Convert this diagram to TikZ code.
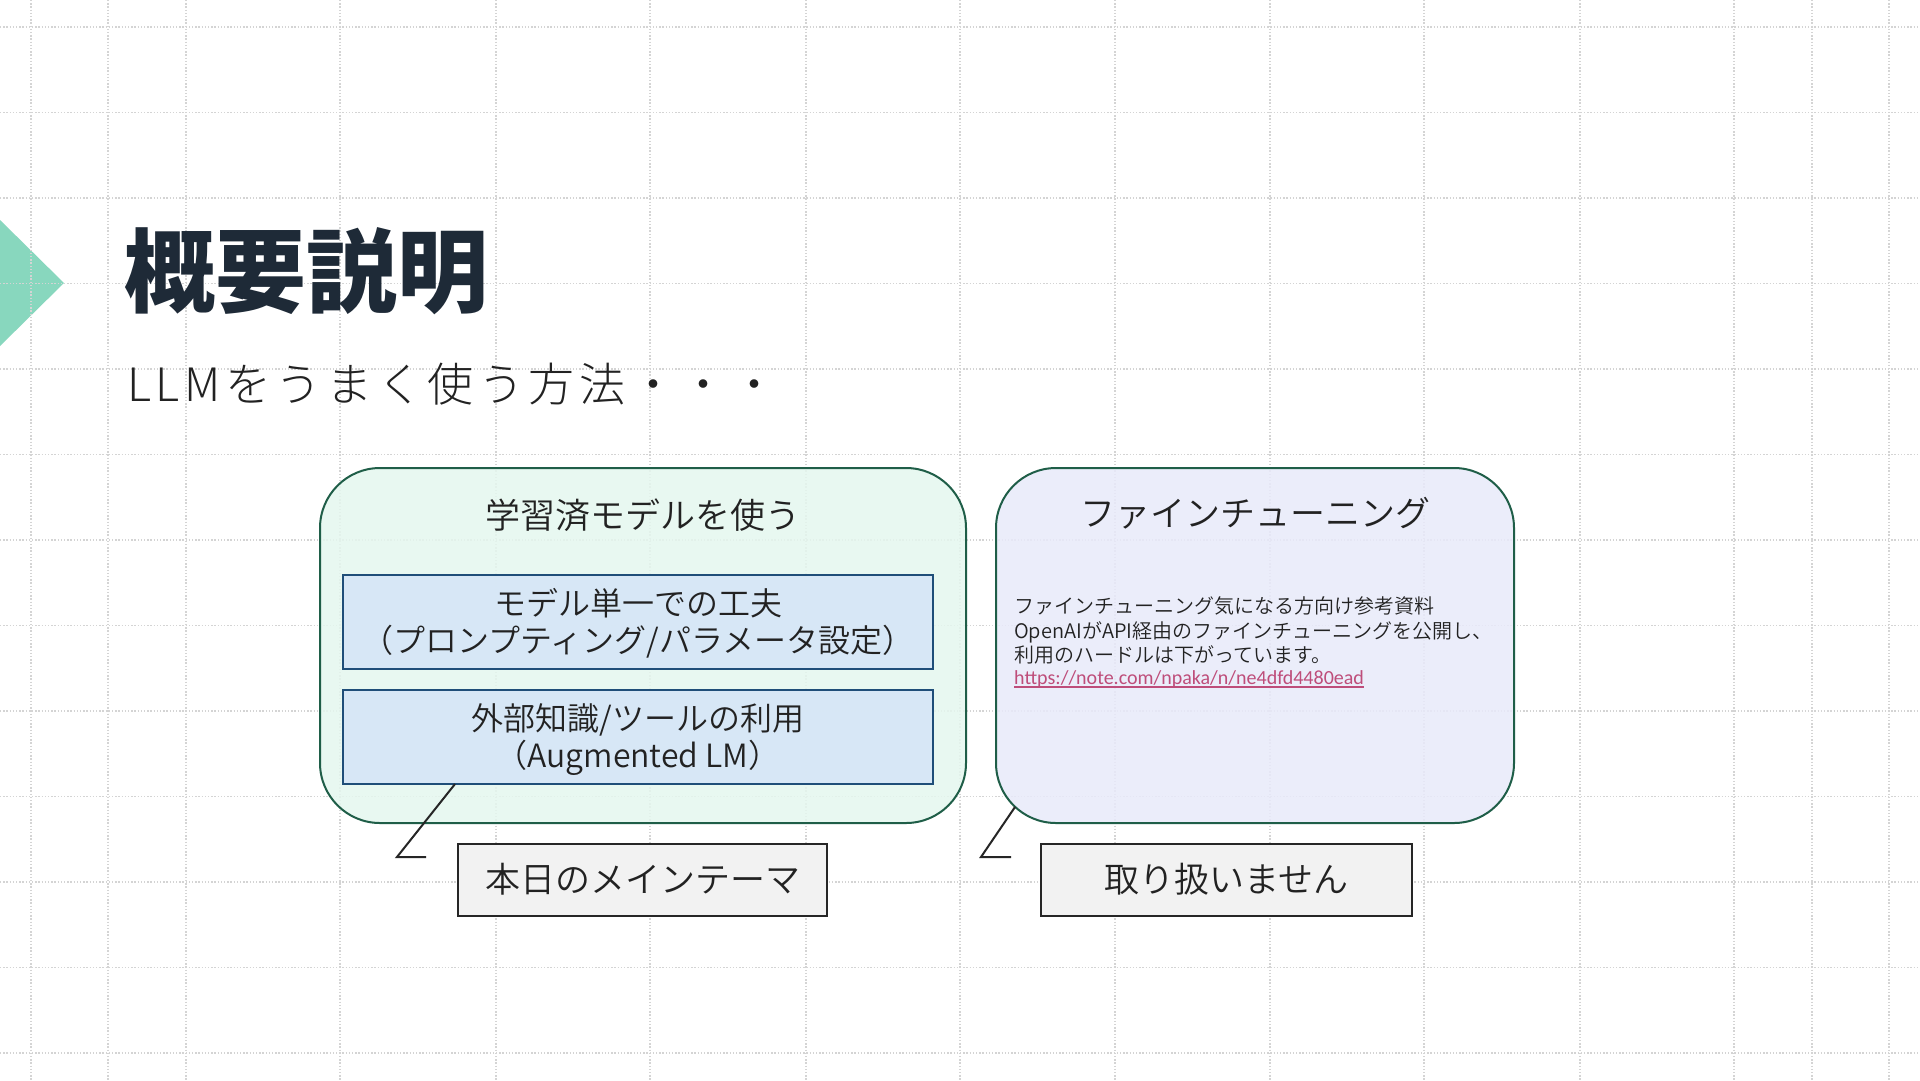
\documentclass[tikz,border=0pt]{standalone}
\usepackage{fontspec}
\setmainfont{Noto Sans CJK JP}
\newfontfamily\jpbold{Noto Sans CJK JP}
\IfFontExistsTF{Noto Sans CJK JP DemiLight}{%
  \newfontfamily\jp{Noto Sans CJK JP DemiLight}}{%
  \newfontfamily\jp{Noto Sans CJK JP}}
\IfFontExistsTF{Noto Sans CJK JP Light}{%
  \newfontfamily\jpspaced{Noto Sans CJK JP Light}[LetterSpace=10]}{%
  \newfontfamily\jpspaced{Noto Sans CJK JP}[LetterSpace=10]}
\newfontfamily\linkfont{Carlito}
\definecolor{tric}{HTML}{88D7BE}
\definecolor{titlec}{HTML}{1E2A37}
\definecolor{gridc}{HTML}{D4D4D4}
\definecolor{greenfill}{HTML}{E5F7EF}
\definecolor{lavfill}{HTML}{E8EAFA}
\definecolor{bigborder}{HTML}{1F5E48}
\definecolor{bluefill}{HTML}{D6E6F7}
\definecolor{blueborder}{HTML}{1F4E79}
\definecolor{callfill}{HTML}{F2F2F2}
\definecolor{callborder}{HTML}{262626}
\definecolor{linkc}{HTML}{BE4D7A}
\definecolor{textc}{HTML}{222222}
\tikzset{
  gridline/.style={gridc, line width=1.2pt, dash pattern=on 1.4pt off 1.8pt},
  bigbox/.style={draw=bigborder, line width=2pt, rounded corners=60pt, fill opacity=0.85, inner sep=0},
  innerbox/.style={draw=blueborder, line width=2pt, fill=bluefill, fill opacity=0.9, inner sep=0},
  callbox/.style={draw=callborder, line width=2.5pt, fill=callfill, inner sep=0},
  leader/.style={callborder, line width=2pt},
  txt/.style={anchor=base, inner sep=0, text=textc, font=\jp\fontsize{32}{38}\selectfont},
  bigtxt/.style={anchor=base, inner sep=0, text=textc, font=\jp\fontsize{35}{41}\selectfont},
  smalltxt/.style={anchor=base west, inner sep=0, text=textc, font=\jp\fontsize{20}{24}\selectfont}
}
\begin{document}
\begin{tikzpicture}[x=1pt,y=-1pt]
\useasboundingbox (0,0) rectangle (1920,1080);
\fill[white] (0,0) rectangle (1920,1080);
% accent triangle
\fill[tric] (0,220) -- (64,283) -- (0,346) -- cycle;
% background grid
\foreach \k in {0,...,12} {
  \draw[gridline] (0,{27+85.5*\k}) -- (1920,{27+85.5*\k});
}
\foreach \gx in {31,108,186,340,496,650,806,960,1115,1270,1424,1580,1734,1812,1889} {
  \draw[gridline] (\gx,0) -- (\gx,1080);
}
% title
\node[anchor=base west, inner sep=0, text=titlec, font=\jpbold\bfseries\fontsize{91}{103}\selectfont] (title) at (124,305) {概要説明};
\node[anchor=base west, inner sep=0, text=textc, font=\jpspaced\fontsize{46}{54}\selectfont] (subtitle) at (127,401) {LLMをうまく使う方法・・・};
% big boxes
\node[bigbox, fill=greenfill, minimum width=646pt, minimum height=355pt] (leftbox) at (643,645.5) {};
\node[bigbox, fill=lavfill, minimum width=518pt, minimum height=355pt] (rightbox) at (1255,645.5) {};
% left box content
\node[bigtxt] (lefttitle) at (643,528) {学習済モデルを使う};
\node[innerbox, minimum width=590pt, minimum height=94pt] (box1) at (638,622) {};
\node[innerbox, minimum width=590pt, minimum height=94pt] (box2) at (638,737) {};
\node[txt] (b1a) at (638,615) {モデル単一での工夫};
\node[txt] (b1b) at (638,652) {（プロンプティング/パラメータ設定）};
\node[txt] (b2a) at (638,730) {外部知識/ツールの利用};
\node[txt] (b2b) at (638,767) {（Augmented LM）};
% right box content
\node[bigtxt] (righttitle) at (1255,526) {ファインチューニング};
\node[smalltxt] (s1) at (1014,613) {ファインチューニング気になる方向け参考資料};
\node[smalltxt] (s2) at (1014,638) {OpenAIがAPI経由のファインチューニングを公開し、};
\node[smalltxt] (s3) at (1014,662) {利用のハードルは下がっています。};
\node[anchor=base west, inner sep=0, text=linkc, font=\linkfont\fontsize{20}{24}\selectfont] (url) at (1014,684) {https://note.com/npaka/n/ne4dfd4480ead};
\draw[linkc, line width=1.4pt] ([yshift=-3pt]url.base west) -- ([yshift=-3pt]url.base east);
% callouts
\node[callbox, minimum width=369pt, minimum height=72pt] (call1) at (642.5,880) {};
\node[bigtxt] (call1t) at (642.5,892) {本日のメインテーマ};
\node[callbox, minimum width=371pt, minimum height=72pt] (call2) at (1226.5,880) {};
\node[bigtxt] (call2t) at (1226.5,892) {取り扱いません};
% leaders
\coordinate (k1) at (397,857);
\coordinate (k1e) at (426,857);
\coordinate (k1s) at (455,784);
\draw[leader] (k1s) -- (k1) -- (k1e);
\coordinate (k2) at (981,857);
\coordinate (k2e) at (1011,857);
\coordinate (k2s) at (1015,807);
\draw[leader] (k2s) -- (k2) -- (k2e);
\end{tikzpicture}
\end{document}
